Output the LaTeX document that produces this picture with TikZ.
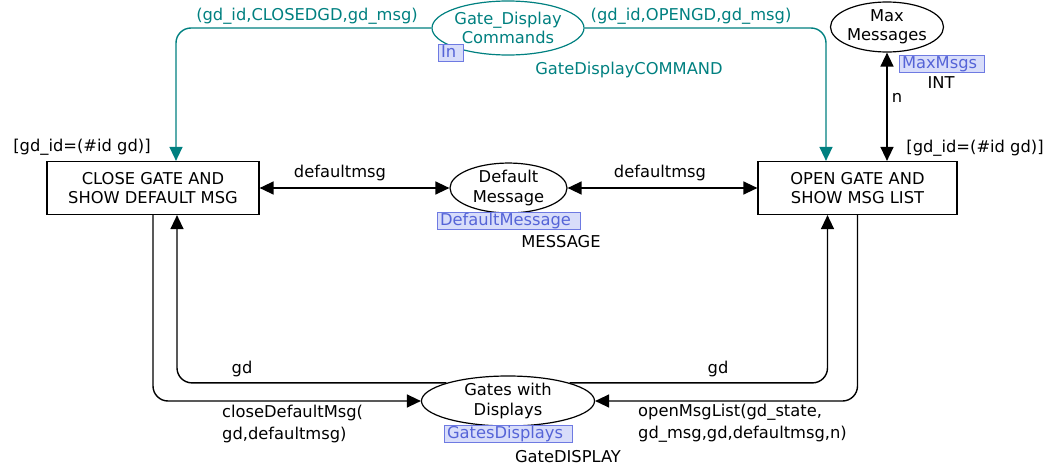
\documentclass[tikz,border=0pt]{standalone}
\usepackage{fontspec}
\setmainfont{DejaVu Sans}
\usetikzlibrary{arrows.meta,shapes.geometric}

\definecolor{tealc}{RGB}{0,128,128}
\definecolor{fusfill}{RGB}{216,221,250}
\definecolor{fusdraw}{RGB}{110,122,226}
\definecolor{fustext}{RGB}{85,100,215}

\tikzset{
  lbl/.style={inner sep=0pt, font=\fontsize{16.3}{19.5}\selectfont},
  trans/.style={draw, line width=1.2pt, minimum height=53pt, inner sep=0pt,
    align=center, font=\fontsize{16.3}{19.5}\selectfont},
  place/.style={ellipse, draw, line width=1.2pt, inner sep=0pt, align=center,
    font=\fontsize{16.3}{19.5}\selectfont},
  tip/.tip={Triangle[length=14pt,width=13pt]},
  arc/.style={line width=1.4pt, -tip, rounded corners=15pt},
  biarc/.style={line width=1.4pt, tip-tip},
  fusion/.style={draw=fusdraw, fill=fusfill, text=fustext, line width=0.8pt,
    inner xsep=3pt, inner ysep=1pt, text height=12pt, text depth=3pt,
    align=left, font=\fontsize{16.3}{19.5}\selectfont},
}

\begin{document}
\begin{tikzpicture}[x=1pt,y=-1pt]
\useasboundingbox (0,0) rectangle (1053,471);

% transitions
\node[trans, minimum width=212pt] (close) at (153,188) {CLOSE GATE AND\\SHOW DEFAULT MSG};
\node[trans, minimum width=199pt] (open) at (857.5,188) {OPEN GATE AND\\SHOW MSG LIST};

% places
\node[place, draw=tealc, text=tealc, minimum width=152pt, minimum height=54pt] (gdc) at (508,28) {Gate\_Display\\Commands};
\node[place, minimum width=112pt, minimum height=50pt] (mm) at (887,27) {Max\\Messages};
\node[place, minimum width=117pt, minimum height=46pt] (dm) at (508.5,188) {Default\\Message};
\node[place, minimum width=173pt, minimum height=50pt] (gw) at (508,401) {Gates with\\Displays};

% place tags
\node[fusion, text width=19pt] (tagin) at (450.5,52.5) {In};
\node[fusion, text width=79pt] (tagmm) at (941.5,64) {MaxMsgs};
\node[fusion, text width=137pt] (tagdm) at (508.5,220.5) {DefaultMessage};
\node[fusion, text width=122pt] (taggw) at (508,433.5) {GatesDisplays};

% colour sets
\node[lbl, text=tealc] (csgdc) at (629,70) {GateDisplayCOMMAND};
\node[lbl] (csmm) at (941,83) {INT};
\node[lbl] (csdm) at (561,242) {MESSAGE};
\node[lbl] (csgw) at (568,457) {GateDISPLAY};

% guards
\node[lbl] (gclose) at (82,147) {[gd\_id=(\#id gd)]};
\node[lbl] (gopen) at (975,148) {[gd\_id=(\#id gd)]};

% arcs from the input port
\draw[arc, draw=tealc, tip-] ([xshift=23pt]close.north) |- (gdc.west);
\draw[arc, draw=tealc] (gdc.east) -| ([xshift=-31.5pt]open.north);
\node[lbl, text=tealc] (a1) at (307,16) {(gd\_id,CLOSEDGD,gd\_msg)};
\node[lbl, text=tealc] (a2) at (691,16) {(gd\_id,OPENGD,gd\_msg)};

% bidirectional arcs
\draw[biarc] (close.east) -- (dm.west);
\draw[biarc] (dm.east) -- (open.west);
\draw[biarc] (mm.south) -- (mm.south |- open.north);
\node[lbl] (a3) at (340,173) {defaultmsg};
\node[lbl] (a4) at (660,173) {defaultmsg};
\node[lbl] (a5) at (897,98) {n};

% arcs to and from the gates place
\draw[arc] (close.south) |- (gw.west);
\draw[arc] (gw.north west) -| ([xshift=24pt]close.south);
\draw[arc] (open.south) |- (gw.east);
\draw[arc] (gw.north east) -| ([xshift=-30pt]open.south);
\node[lbl] (a6) at (242,369) {gd};
\node[lbl] (a7) at (718,369) {gd};
\node[lbl, anchor=west, align=left, font=\fontsize{16.3}{22}\selectfont] (a8) at (222,423.5) {closeDefaultMsg(\\gd,defaultmsg)};
\node[lbl, anchor=west, align=left, font=\fontsize{16.3}{22}\selectfont] (a9) at (638,423.5) {openMsgList(gd\_state,\\gd\_msg,gd,defaultmsg,n)};
\end{tikzpicture}
\end{document}
